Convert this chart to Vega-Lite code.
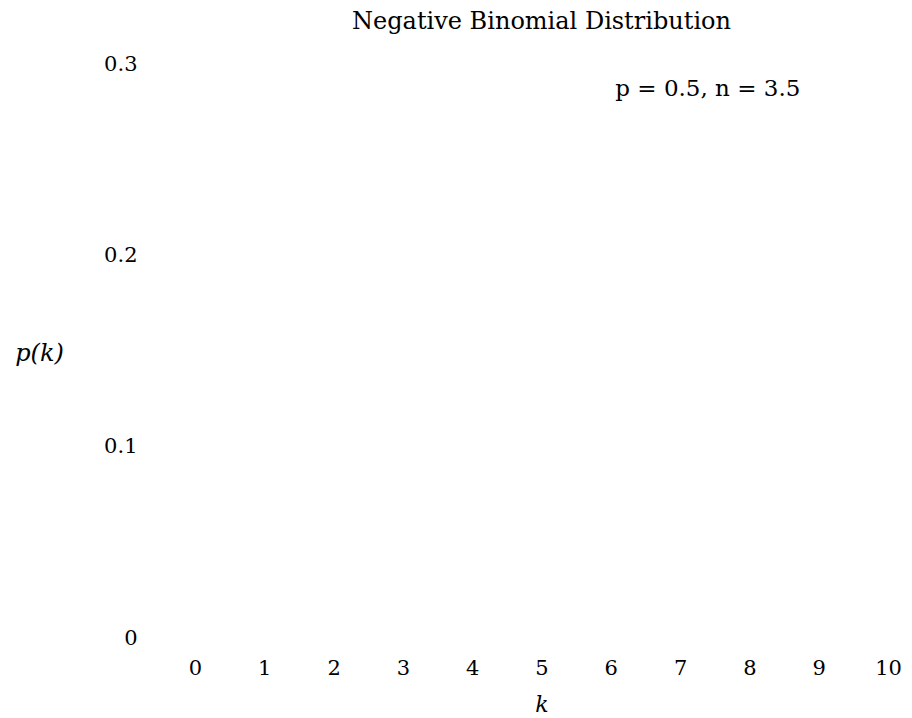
{
  "$schema": "https://vega.github.io/schema/vega-lite/v6.json",
  "autosize": "none",
  "width": 703,
  "height": 574,
  "padding": {"left": 190, "top": 64, "right": 19, "bottom": 80},
  "background": "white",
  "config": {
    "view": {"stroke": null},
    "font": "DejaVu Serif",
    "text": {"font": "DejaVu Serif"}
  },
  "title": {
    "text": "Negative Binomial Distribution",
    "font": "DejaVu Serif",
    "fontSize": 24,
    "fontWeight": "normal",
    "color": "black",
    "anchor": "middle",
    "frame": "group",
    "offset": 19
  },
  "data": {
    "values": [
      {"k": 0, "p": 0.0884},
      {"k": 1, "p": 0.1547},
      {"k": 2, "p": 0.1740},
      {"k": 3, "p": 0.1595},
      {"k": 4, "p": 0.1296},
      {"k": 5, "p": 0.0972},
      {"k": 6, "p": 0.0688},
      {"k": 7, "p": 0.0467},
      {"k": 8, "p": 0.0307},
      {"k": 9, "p": 0.0196},
      {"k": 10, "p": 0.0122}
    ]
  },
  "encoding": {
    "x": {
      "field": "k",
      "type": "quantitative",
      "scale": {"domain": [0, 10], "nice": false, "zero": false},
      "axis": {
        "title": "k",
        "titleFont": "DejaVu Serif",
        "titleFontStyle": "italic",
        "titleFontWeight": "normal",
        "titleFontSize": 22,
        "titleColor": "black",
        "titleY": 66,
        "titleBaseline": "middle",
        "values": [0, 1, 2, 3, 4, 5, 6, 7, 8, 9, 10],
        "format": "d",
        "labelFont": "DejaVu Serif",
        "labelFontSize": 21,
        "labelColor": "black",
        "labelBaseline": "middle",
        "labelPadding": 30,
        "labelOverlap": false,
        "labelFlush": false,
        "domain": false,
        "ticks": false,
        "grid": false
      }
    },
    "y": {
      "field": "p",
      "type": "quantitative",
      "scale": {"domain": [0, 0.3], "nice": false},
      "axis": {
        "title": "p(k)",
        "titleFont": "DejaVu Serif",
        "titleFontStyle": "italic",
        "titleFontWeight": "normal",
        "titleFontSize": 24,
        "titleColor": "black",
        "titleAngle": 0,
        "titleAlign": "center",
        "titleBaseline": "middle",
        "titleX": -151,
        "titleY": 289,
        "values": [0, 0.1, 0.2, 0.3],
        "format": "~g",
        "labelFont": "DejaVu Serif",
        "labelFontSize": 21,
        "labelColor": "black",
        "labelAlign": "right",
        "labelBaseline": "middle",
        "labelPadding": 53,
        "labelFlush": false,
        "labelOverlap": false,
        "domain": false,
        "ticks": false,
        "grid": false
      }
    }
  },
  "layer": [
    {
      "mark": {"type": "bar", "color": "white", "size": 30}
    },
    {
      "data": {"values": [{"k": 7.4, "p": 0.287, "label": "p = 0.5, n = 3.5"}]},
      "mark": {
        "type": "text",
        "font": "DejaVu Serif",
        "fontSize": 23,
        "color": "black",
        "align": "center",
        "baseline": "middle"
      },
      "encoding": {"text": {"field": "label"}}
    }
  ]
}
